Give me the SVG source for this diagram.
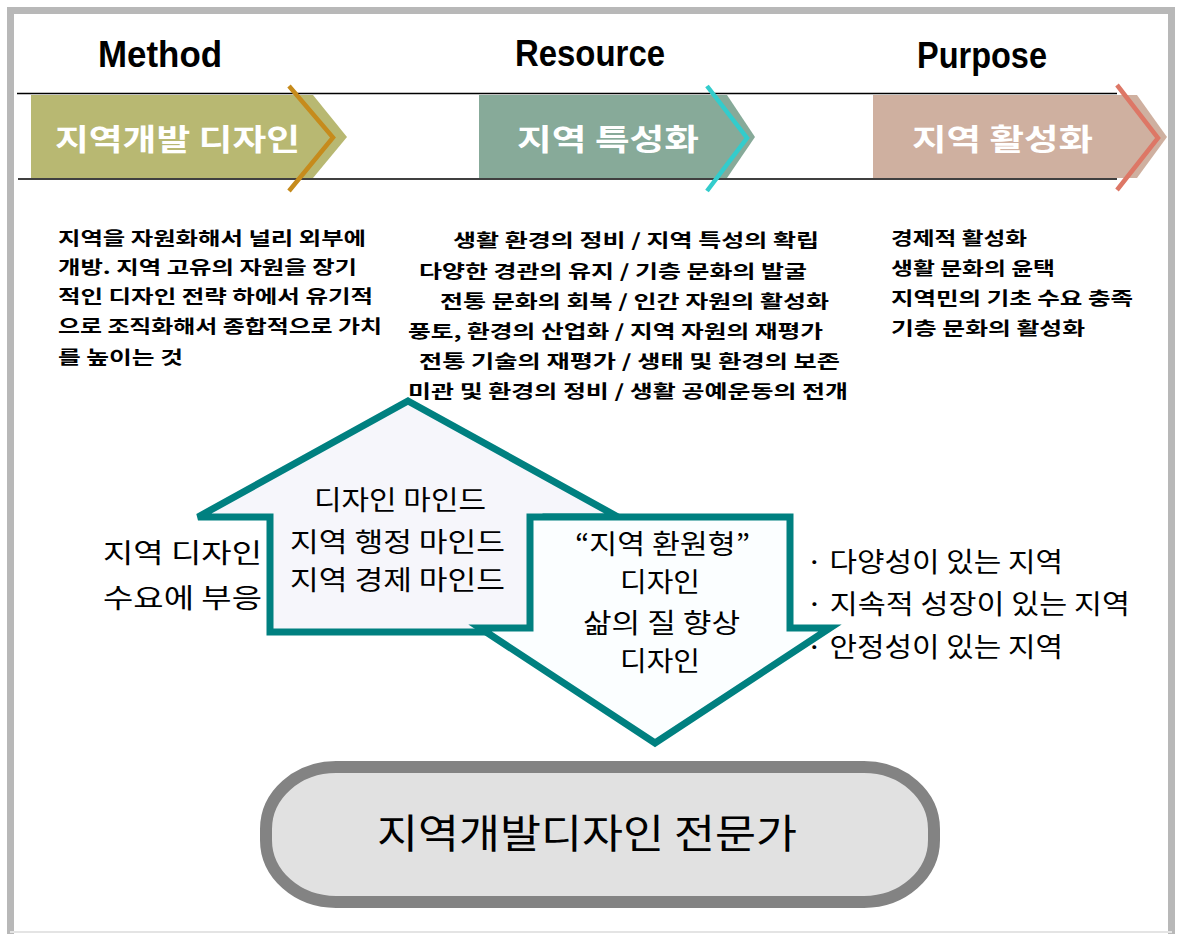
<svg xmlns="http://www.w3.org/2000/svg" width="1178" height="934" viewBox="0 0 1178 934">
<style>
.head{font-family:"Liberation Sans",Arial,sans-serif;font-weight:bold;font-size:36px;fill:#000;text-anchor:middle}
.lab{font-family:"Noto Sans CJK KR",sans-serif;font-weight:bold;font-size:30px;fill:#fff}
.desc{font-family:"Noto Sans CJK KR",sans-serif;font-weight:bold;font-size:18px;fill:#000}
.mid{font-family:"Noto Sans CJK KR",sans-serif;font-size:27px;fill:#000}
.big{font-family:"Noto Sans CJK KR",sans-serif;font-size:40px;fill:#000}
.rule{stroke:#000;stroke-width:1.3}
.chev{fill:none;stroke-width:4.5}
.big-arrow{stroke:#008080;stroke-width:7;stroke-linejoin:miter}
</style>
<rect width="1178" height="934" fill="#fff"/>
<path d="M10.5,940 V10.5 H1171.5 V940" fill="none" stroke="#b8b8b8" stroke-width="7"/>
<line x1="10" y1="932" x2="1172" y2="932" stroke="#e4e4e4" stroke-width="2"/>

<line class="rule" x1="17" y1="93.5" x2="1117" y2="93.5"/>
<line class="rule" x1="18" y1="179" x2="1117" y2="179"/>

<g id="method">
<text class="head" x="160" y="67" textLength="124" lengthAdjust="spacingAndGlyphs">Method</text>
<polygon points="31,95 313,95 347,137 313,178 31,178" fill="#b8b872"/>
<polyline class="chev" points="289,86 333,137.5 289,191" stroke="#c68b1c"/>
<text class="lab" x="55" y="150" textLength="245" lengthAdjust="spacingAndGlyphs">지역개발 디자인</text>
</g>
<g id="resource">
<text class="head" x="590" y="66" textLength="150" lengthAdjust="spacingAndGlyphs">Resource</text>
<polygon points="479,95 727,95 755,137 727,178 479,178" fill="#87aa99"/>
<polyline class="chev" points="707,86 747,138 707,191" stroke="#33cccc"/>
<text class="lab" x="517" y="150" textLength="182" lengthAdjust="spacingAndGlyphs">지역 특성화</text>
</g>
<g id="purpose">
<text class="head" x="982" y="68" textLength="130" lengthAdjust="spacingAndGlyphs">Purpose</text>
<polygon points="873,95 1137,95 1167,137 1137,178 873,178" fill="#cfb0a0"/>
<polyline class="chev" points="1117,85 1158,138 1117,190" stroke="#dd7766"/>
<text class="lab" x="912" y="150" textLength="181" lengthAdjust="spacingAndGlyphs">지역 활성화</text>
</g>

<g id="method-desc">
<text class="desc" x="58" y="245" textLength="308" lengthAdjust="spacingAndGlyphs">지역을 자원화해서 널리 외부에</text>
<text class="desc" x="58" y="274" textLength="299" lengthAdjust="spacingAndGlyphs">개방. 지역 고유의 자원을 장기</text>
<text class="desc" x="58" y="303" textLength="315" lengthAdjust="spacingAndGlyphs">적인 디자인 전략 하에서 유기적</text>
<text class="desc" x="58" y="333" textLength="324" lengthAdjust="spacingAndGlyphs">으로 조직화해서 종합적으로 가치</text>
<text class="desc" x="58" y="364" textLength="125" lengthAdjust="spacingAndGlyphs">를 높이는 것</text>
</g>
<g id="resource-desc">
<text class="desc" x="453" y="247" textLength="366" lengthAdjust="spacingAndGlyphs">생활 환경의 정비 / 지역 특성의 확립</text>
<text class="desc" x="419" y="278" textLength="388" lengthAdjust="spacingAndGlyphs">다양한 경관의 유지 / 기층 문화의 발굴</text>
<text class="desc" x="440" y="308" textLength="389" lengthAdjust="spacingAndGlyphs">전통 문화의 회복 / 인간 자원의 활성화</text>
<text class="desc" x="408" y="338" textLength="415" lengthAdjust="spacingAndGlyphs">풍토, 환경의 산업화 / 지역 자원의 재평가</text>
<text class="desc" x="419" y="368" textLength="421" lengthAdjust="spacingAndGlyphs">전통 기술의 재평가 / 생태 및 환경의 보존</text>
<text class="desc" x="408" y="398" textLength="440" lengthAdjust="spacingAndGlyphs">미관 및 환경의 정비 / 생활 공예운동의 전개</text>
</g>
<g id="purpose-desc">
<text class="desc" x="891" y="245" textLength="136" lengthAdjust="spacingAndGlyphs">경제적 활성화</text>
<text class="desc" x="891" y="275" textLength="164" lengthAdjust="spacingAndGlyphs">생활 문화의 윤택</text>
<text class="desc" x="891" y="305" textLength="242" lengthAdjust="spacingAndGlyphs">지역민의 기초 수요 충족</text>
<text class="desc" x="891" y="335" textLength="194" lengthAdjust="spacingAndGlyphs">기층 문화의 활성화</text>
</g>

<g id="up-arrow">
<polygon class="big-arrow" points="408,401 618,517 546,517 546,632 270,632 270,517 198,517" fill="#f6f6fb"/>
<text class="mid" x="314" y="510" textLength="172" lengthAdjust="spacingAndGlyphs">디자인 마인드</text>
<text class="mid" x="290" y="552" textLength="215" lengthAdjust="spacingAndGlyphs">지역 행정 마인드</text>
<text class="mid" x="290" y="590" textLength="215" lengthAdjust="spacingAndGlyphs">지역 경제 마인드</text>
</g>
<g id="down-arrow">
<polygon class="big-arrow" points="530,517 790,517 790,628 830,628 655,743 480,628 530,628" fill="#fbfeff"/>
<text class="mid" x="575" y="554" textLength="175" lengthAdjust="spacingAndGlyphs">“지역 환원형”</text>
<text class="mid" x="620" y="592" textLength="80" lengthAdjust="spacingAndGlyphs">디자인</text>
<text class="mid" x="583" y="633" textLength="157" lengthAdjust="spacingAndGlyphs">삶의 질 향상</text>
<text class="mid" x="620" y="671" textLength="80" lengthAdjust="spacingAndGlyphs">디자인</text>
</g>
<g id="demand">
<text class="mid" x="103" y="563" textLength="159" lengthAdjust="spacingAndGlyphs">지역 디자인</text>
<text class="mid" x="103" y="608" textLength="159" lengthAdjust="spacingAndGlyphs">수요에 부응</text>
</g>
<g id="region-list">
<text class="mid" x="806" y="572" textLength="257" lengthAdjust="spacingAndGlyphs">· 다양성이 있는 지역</text>
<text class="mid" x="806" y="614" textLength="324" lengthAdjust="spacingAndGlyphs">· 지속적 성장이 있는 지역</text>
<text class="mid" x="806" y="657" textLength="257" lengthAdjust="spacingAndGlyphs">· 안정성이 있는 지역</text>
</g>
<g id="expert">
<rect x="266" y="767" width="668" height="135" rx="70" ry="62" fill="#e1e1e1" stroke="#838383" stroke-width="12"/>
<text class="big" x="377" y="848" textLength="420" lengthAdjust="spacingAndGlyphs">지역개발디자인 전문가</text>
</g>
</svg>
